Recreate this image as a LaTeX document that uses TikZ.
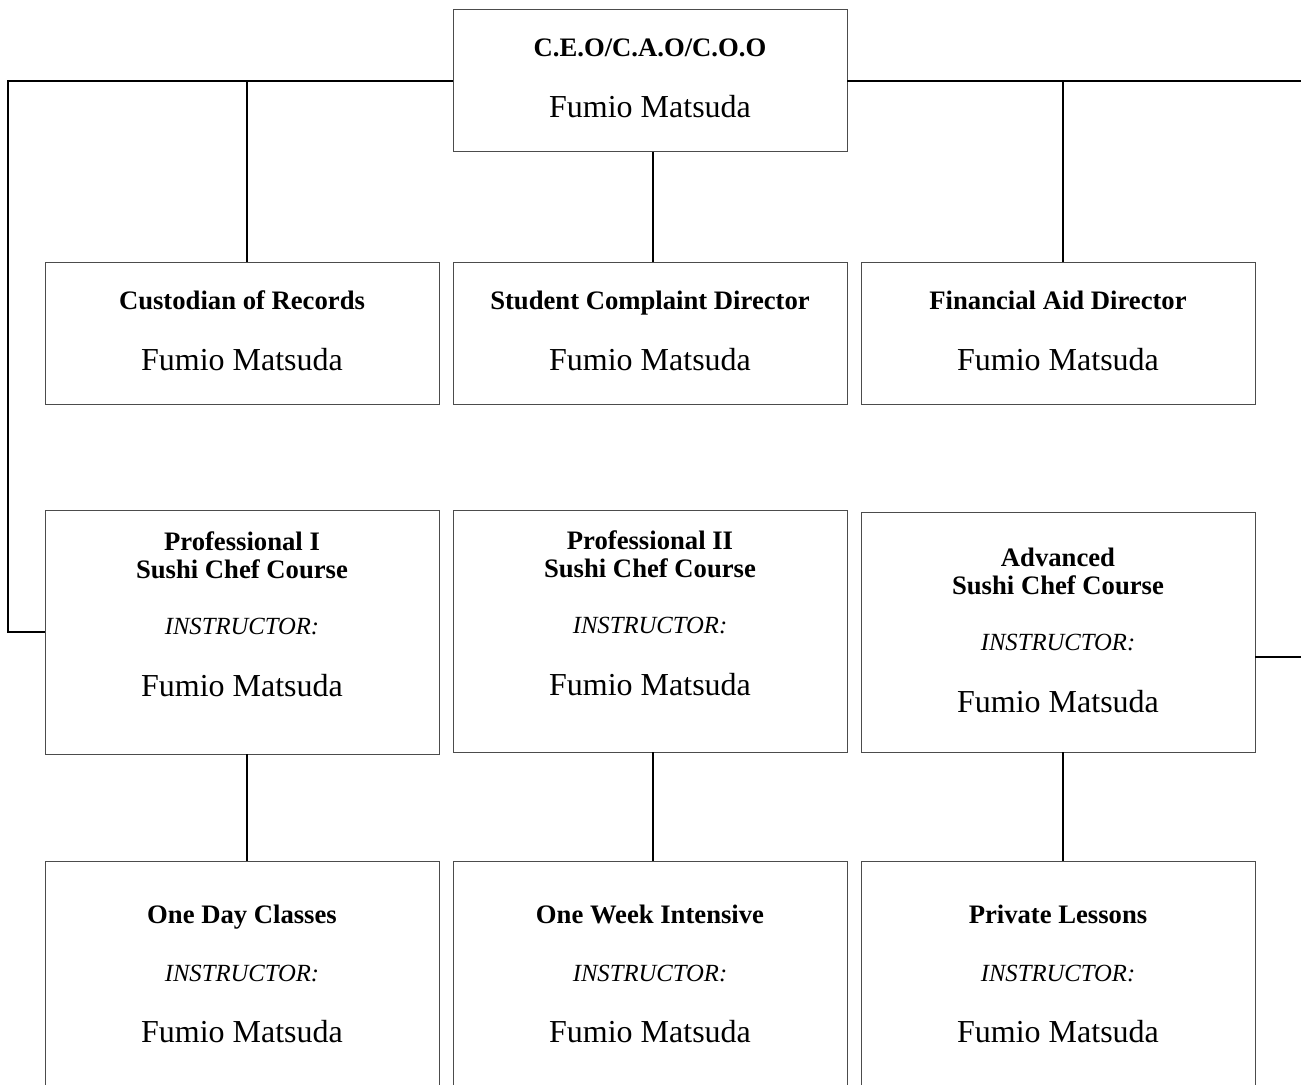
\documentclass[tikz,border=0pt]{standalone}
\usepackage{fontspec}
\setmainfont{Liberation Serif}
\begin{document}
\begin{tikzpicture}[x=0.75pt, y=-0.75pt,
	box/.style={draw=black!70, line width=0.75pt, rectangle, inner sep=0pt, outer sep=0pt, minimum width=295.5pt},
	link/.style={line width=1.6pt},
	head/.style={anchor=base, align=center, font=\fontsize{20}{21}\selectfont\bfseries},
	role/.style={anchor=base, font=\fontsize{18.5}{20}\selectfont\itshape},
	who/.style={anchor=base, font=\fontsize{24}{26}\selectfont}]
	\clip (0,0) rectangle (1301,1084);
	% boxes
	\node[box, minimum height=106.5pt] (ceo) at (650,81) {};
	\node[box, minimum height=106.5pt] (cust) at (242,333) {};
	\node[box, minimum height=106.5pt] (compl) at (650,333) {};
	\node[box, minimum height=106.5pt] (aid) at (1058,333) {};
	\node[box, minimum height=183pt] (prof1) at (242,632) {};
	\node[box, minimum height=181.5pt] (prof2) at (650,631) {};
	\node[box, minimum height=180pt] (adv) at (1058,632) {};
	\node[box, minimum height=253.5pt] (oneday) at (242,1030) {};
	\node[box, minimum height=253.5pt] (week) at (650,1030) {};
	\node[box, minimum height=253.5pt] (priv) at (1058,1030) {};
	% texts (two-line heads sit on their last line)
	\node[head] (ceoT) at (650,57) {C.E.O/C.A.O/C.O.O};
	\node[who] (ceoN) at (650,118) {Fumio Matsuda};
	\node[head] (custT) at (242,309) {Custodian of Records};
	\node[who] (custN) at (242,370) {Fumio Matsuda};
	\node[head] (complT) at (650,309) {Student Complaint Director};
	\node[who] (complN) at (650,370) {Fumio Matsuda};
	\node[head] (aidT) at (1058,309) {Financial Aid Director};
	\node[who] (aidN) at (1058,370) {Fumio Matsuda};
	\node[head] (prof1T) at (242,578) {Professional I\\Sushi Chef Course};
	\node[role] (prof1R) at (242,634) {INSTRUCTOR:};
	\node[who] (prof1N) at (242,696) {Fumio Matsuda};
	\node[head] (prof2T) at (650,577) {Professional II\\Sushi Chef Course};
	\node[role] (prof2R) at (650,633) {INSTRUCTOR:};
	\node[who] (prof2N) at (650,695) {Fumio Matsuda};
	\node[head] (advT) at (1058,594) {Advanced\\Sushi Chef Course};
	\node[role] (advR) at (1058,650) {INSTRUCTOR:};
	\node[who] (advN) at (1058,712) {Fumio Matsuda};
	\node[head] (onedayT) at (242,923) {One Day Classes};
	\node[head] (weekT) at (650,923) {One Week Intensive};
	\node[head] (privT) at (1058,923) {Private Lessons};
	\foreach \x/\n in {242/oneday,650/week,1058/priv}
	{
		\node[role] (\n R) at (\x,981) {INSTRUCTOR:};
		\node[who] (\n N) at (\x,1042) {Fumio Matsuda};
	}
	% connectors
	\coordinate (busL) at (8,81);
	\coordinate (busR) at (1320,81);
	\coordinate (advIn) at (1255,657);
	\coordinate (d1) at (247,81);
	\coordinate (d2) at (653,81);
	\coordinate (d3) at (1063,81);
	\draw[link] (ceo.west) -- (busL) |- (prof1.west);
	\draw[link] (ceo.east) -- (busR) |- (advIn);
	\draw[link] (d1) -- (d1 |- cust.north);
	\draw[link] (ceo.south -| d2) -- (compl.north -| d2);
	\draw[link] (d3) -- (d3 |- aid.north);
	\draw[link] (prof1.south -| d1) -- (oneday.north -| d1);
	\draw[link] (prof2.south -| d2) -- (week.north -| d2);
	\draw[link] (adv.south -| d3) -- (priv.north -| d3);
\end{tikzpicture}
\end{document}
